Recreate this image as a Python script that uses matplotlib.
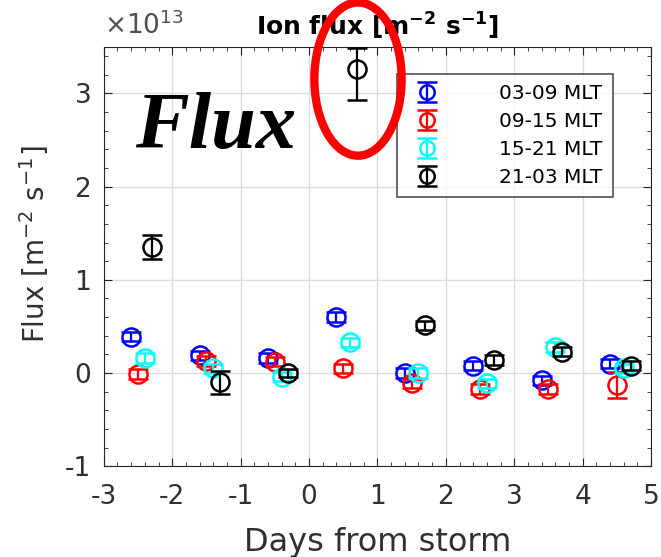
import numpy as np
import matplotlib.pyplot as plt
from matplotlib.patches import Ellipse
from matplotlib.ticker import MultipleLocator

# values in units of 1e13 m^-2 s^-1
days = np.array([-2.6, -1.6, -0.6, 0.4, 1.4, 2.4, 3.4, 4.4])
offsets = [0.0, 0.1, 0.2, 0.3]

flux_0309 = [0.39, 0.19, 0.16, 0.60, 0.00, 0.08, -0.08, 0.10]
flux_0915 = [-0.01, 0.13, 0.12, 0.05, -0.11, -0.17, -0.17, -0.13]
flux_1521 = [0.16, 0.05, -0.04, 0.33, 0.00, -0.11, 0.28, 0.05]
flux_2103 = [1.35, -0.10, 0.00, 3.26, 0.51, 0.14, 0.23, 0.08]

err_0309 = [0.05, 0.05, 0.05, 0.05, 0.05, 0.05, 0.05, 0.05]
err_0915 = [0.05, 0.05, 0.05, 0.05, 0.05, 0.05, 0.05, 0.14]
err_1521 = [0.05, 0.05, 0.05, 0.05, 0.05, 0.05, 0.05, 0.05]
err_2103_lo = [0.13, 0.12, 0.04, 0.33, 0.05, 0.05, 0.05, 0.05]
err_2103_hi = [0.13, 0.12, 0.04, 0.23, 0.05, 0.05, 0.05, 0.05]

labels = ['03-09 MLT', '09-15 MLT', '15-21 MLT', '21-03 MLT']
colors = ['#0000ff', '#ff0000', '#00ffff', '#000000']


def main():
    plt.rcParams['font.family'] = ['DejaVu Sans']
    plt.rcParams['mathtext.default'] = 'regular'
    plt.rcParams['axes.unicode_minus'] = False

    fig = plt.figure(figsize=(6.61, 5.57), dpi=100)
    ax = fig.add_axes([0.157, 0.163, 0.828, 0.753])

    series = [flux_0309, flux_0915, flux_1521, flux_2103]
    errs = [err_0309, err_0915, err_1521, [err_2103_lo, err_2103_hi]]
    for i in range(4):
        ax.errorbar(days + offsets[i], series[i], yerr=errs[i], fmt='o',
                    color=colors[i], mfc='none', mec=colors[i], ms=13, mew=1.8,
                    elinewidth=1.6, capsize=7, capthick=1.6, label=labels[i],
                    zorder=3 + i)

    ax.set_xlim(-3, 5)
    ax.set_ylim(-1, 3.5)
    ax.set_xticks(range(-3, 6))
    ax.set_yticks(range(-1, 4))
    ax.xaxis.set_minor_locator(MultipleLocator(0.2))
    ax.yaxis.set_minor_locator(MultipleLocator(0.2))
    ax.tick_params(which='both', direction='in', top=True, right=True,
                   colors='#262626', labelcolor='#303030')
    ax.tick_params(which='major', length=6, labelsize=19)
    ax.tick_params(axis='x', which='major', pad=13)
    ax.tick_params(axis='y', which='major', pad=9)
    ax.tick_params(which='minor', length=3)
    ax.grid(True, color='#dcdcdc', linewidth=1)
    ax.set_axisbelow(True)
    for s in ax.spines.values():
        s.set_color('#262626')

    ax.set_xlabel('Days from storm', fontsize=23, color='#303030', labelpad=12)
    ax.set_ylabel('Flux [m$^{-2}$ s$^{-1}$]', fontsize=20, color='#303030')
    ax.yaxis.set_label_coords(-0.097, 0.53)
    ax.set_title('Ion flux [m$^{\\mathbf{-2}}$ s$^{\\mathbf{-1}}$]',
                 fontsize=18, fontweight='bold', pad=8)
    ax.text(0.0, 1.015, '$\\times10^{13}$', transform=ax.transAxes,
            fontsize=19, color='#505050', ha='left', va='bottom')

    leg = ax.legend(loc='upper left', bbox_to_anchor=(0.535, 0.935),
                    fontsize=14.5, frameon=True, fancybox=False,
                    edgecolor='#262626', handlelength=2.0, handletextpad=2.6,
                    borderpad=0.5, borderaxespad=0, labelspacing=0.45,
                    markerscale=0.8)
    leg.get_frame().set_linewidth(1.2)
    leg.set_zorder(10)

    # overlaid annotations
    fig.text(0.205, 0.735, 'Flux', fontsize=58, fontweight='bold',
             fontstyle='italic', family='Liberation Serif', color='black')
    fig.patches.append(Ellipse((0.5416, 0.858), 0.132, 0.275, fill=False,
                               edgecolor='#ff0000', linewidth=6,
                               transform=fig.transFigure, figure=fig,
                               zorder=20))

    fig.savefig('out.png', dpi=100)


if __name__ == '__main__':
    main()
